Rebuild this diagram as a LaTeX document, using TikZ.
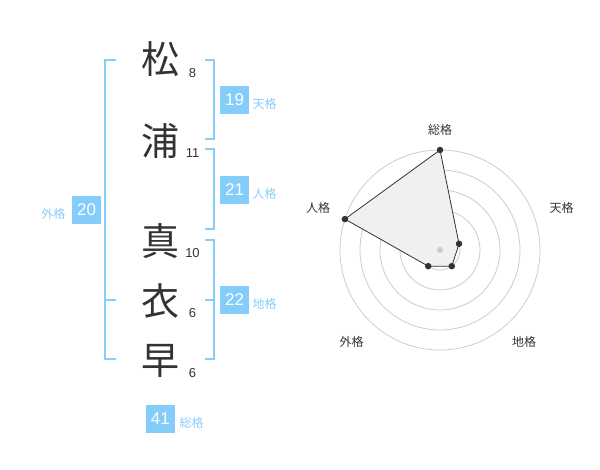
\documentclass[tikz,border=0pt]{standalone}
\usepackage{fontspec}
\setmainfont{Liberation Sans}
\newfontfamily\cjk{Noto Sans CJK JP}
\usetikzlibrary{calc}
\definecolor{sky}{HTML}{87CEFA}
\definecolor{boxc}{HTML}{84CCF9}
\definecolor{ink}{HTML}{333333}
\definecolor{gridc}{HTML}{CCCCCC}
\definecolor{polyfill}{HTML}{F0F0F0}
\begin{document}
\begin{tikzpicture}[x=1pt,y=-1pt,
 kanji/.style={font=\cjk\fontsize{38}{38}\selectfont, text=ink, inner sep=0pt},
 strokes/.style={font=\fontsize{13}{13}\selectfont, text=ink, inner sep=0pt},
 badge/.style={fill=boxc, text=white, minimum width=29pt, minimum height=28pt, inner sep=0pt, font=\fontsize{17}{17}\selectfont},
 kaku/.style={font=\cjk\fontsize{12}{12}\selectfont, text=sky, inner sep=0pt},
 bracket/.style={draw=sky, line width=2pt},
 axislabel/.style={font=\cjk\fontsize{12}{12}\selectfont, text=ink, inner sep=0pt},
 ring/.style={draw=gridc, line width=0.8pt},
 vertex/.style={circle, fill=ink, minimum size=6.5pt, inner sep=0pt},
 hubdot/.style={circle, fill=gridc, minimum size=6pt, inner sep=0pt},
 poly/.style={fill=polyfill, draw=ink, line width=0.8pt},
]
\useasboundingbox (0,0) rectangle (600,470);

% name characters
\node[kanji] (k1) at (160,59) {松};
\node[kanji] (k2) at (160,141) {浦};
\node[kanji] (k3) at (160,241) {真};
\node[kanji] (k4) at (160,301) {衣};
\node[kanji] (k5) at (160,361) {早};

% stroke counts
\node[strokes] (n1) at (192.5,73) {8};
\node[strokes] (n2) at (192.5,153) {11};
\node[strokes] (n3) at (192.5,253) {10};
\node[strokes] (n4) at (192.5,313) {6};
\node[strokes] (n5) at (192.5,373) {6};

% brackets
\draw[bracket] (116,60) -- (105,60) -- (105,359) -- (116,359);
\draw[bracket] (105,300) -- (116,300);
\draw[bracket] (205,60) -- (214,60) -- (214,139) -- (205,139);
\draw[bracket] (205,149) -- (214,149) -- (214,229) -- (205,229);
\draw[bracket] (205,240) -- (214,240) -- (214,359) -- (205,359);
\draw[bracket] (205,300) -- (214,300);

% badges
\node[badge] (b19) at (234.5,100) {19};
\node[kaku, anchor=west] (l19) at (252.5,104) {天格};
\node[badge] (b21) at (234.5,190) {21};
\node[kaku, anchor=west] (l21) at (252.5,194) {人格};
\node[badge] (b22) at (234.5,300) {22};
\node[kaku, anchor=west] (l22) at (252.5,304) {地格};
\node[badge] (b20) at (86.7,210) {20};
\node[kaku, anchor=east] (l20) at (65.5,214) {外格};
\node[badge] (b41) at (160.3,419) {41};
\node[kaku, anchor=west] (l41) at (179.5,423) {総格};

% radar chart
\coordinate (c) at (440,250);
\foreach \r in {20,40,60,80,100} \draw[ring] (c) circle[radius=\r pt];
\coordinate (p1) at ($(c)+(-90:100)$);
\coordinate (p2) at ($(c)+(-18:20)$);
\coordinate (p3) at ($(c)+(54:20)$);
\coordinate (p4) at ($(c)+(126:20)$);
\coordinate (p5) at ($(c)+(198:100)$);
\draw[poly] (p1) -- (p2) -- (p3) -- (p4) -- (p5) -- cycle;
\node[hubdot] (hub) at (c) {};
\node[vertex] (v1) at (p1) {};
\node[vertex] (v2) at (p2) {};
\node[vertex] (v3) at (p3) {};
\node[vertex] (v4) at (p4) {};
\node[vertex] (v5) at (p5) {};

\node[axislabel] (a1) at ($(c)+(0,-120)$) {総格};
\node[axislabel] (a2) at ($(c)+(121.7,-41.7)$) {天格};
\node[axislabel] (a3) at ($(c)+(84,91.7)$) {地格};
\node[axislabel] (a4) at ($(c)+(-88.3,91.7)$) {外格};
\node[axislabel] (a5) at ($(c)+(-122,-42)$) {人格};
\end{tikzpicture}
\end{document}
